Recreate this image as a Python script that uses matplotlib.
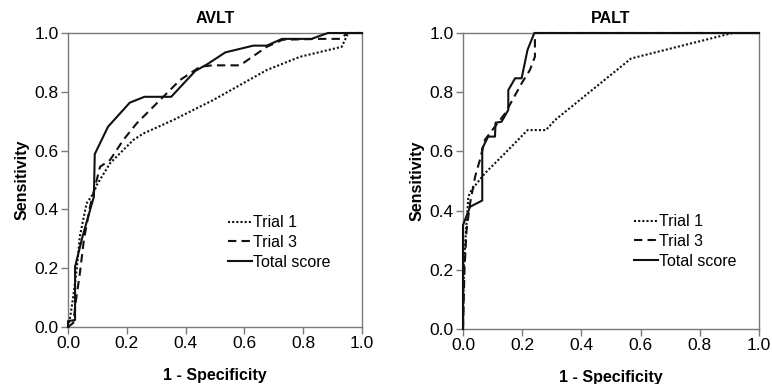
import matplotlib.pyplot as plt
import numpy as np

plt.rcParams['font.family'] = ['Liberation Sans', 'DejaVu Sans']

# AVLT curves (1 - specificity, sensitivity)
avlt_t1_x = [0, 0.005, 0.01, 0.02, 0.03, 0.04, 0.063, 0.086, 0.098, 0.143, 0.222, 0.256, 0.358, 0.494, 0.676, 0.789, 0.931, 0.953, 1.0]
avlt_t1_y = [0, 0.02, 0.05, 0.12, 0.2, 0.307, 0.42, 0.454, 0.483, 0.557, 0.636, 0.658, 0.704, 0.772, 0.874, 0.919, 0.953, 1.0, 1.0]
avlt_t3_x = [0, 0.018, 0.027, 0.04, 0.054, 0.075, 0.109, 0.143, 0.188, 0.234, 0.302, 0.381, 0.449, 0.49, 0.585, 0.676, 0.73, 0.857, 0.93, 0.948, 1.0]
avlt_t3_y = [0, 0.014, 0.09, 0.18, 0.296, 0.41, 0.545, 0.568, 0.636, 0.693, 0.761, 0.84, 0.885, 0.89, 0.89, 0.953, 0.977, 0.98, 0.98, 1.0, 1.0]
avlt_tot_x = [0, 0, 0.024, 0.024, 0.05, 0.088, 0.091, 0.136, 0.21, 0.26, 0.351, 0.433, 0.474, 0.535, 0.63, 0.676, 0.728, 0.828, 0.884, 1.0]
avlt_tot_y = [0, 0.02, 0.024, 0.205, 0.31, 0.443, 0.588, 0.681, 0.763, 0.783, 0.783, 0.871, 0.894, 0.934, 0.957, 0.957, 0.98, 0.98, 1.0, 1.0]

# PALT curves
palt_t1_x = [0, 0.003, 0.008, 0.015, 0.018, 0.029, 0.074, 0.142, 0.218, 0.28, 0.311, 0.568, 0.911, 1.0]
palt_t1_y = [0, 0.2, 0.3, 0.4, 0.447, 0.47, 0.526, 0.594, 0.672, 0.672, 0.706, 0.914, 1.0, 1.0]
palt_t3_x = [0, 0.005, 0.012, 0.024, 0.041, 0.057, 0.074, 0.108, 0.142, 0.17, 0.198, 0.226, 0.243, 0.243, 1.0]
palt_t3_y = [0, 0.2, 0.334, 0.425, 0.515, 0.571, 0.639, 0.684, 0.728, 0.779, 0.83, 0.875, 0.92, 1.0, 1.0]
palt_tot_x = [0, 0, 0.024, 0.065, 0.065, 0.085, 0.108, 0.11, 0.13, 0.153, 0.153, 0.176, 0.198, 0.218, 0.241, 1.0]
palt_tot_y = [0, 0.351, 0.413, 0.434, 0.61, 0.65, 0.65, 0.697, 0.7, 0.74, 0.807, 0.847, 0.847, 0.943, 1.0, 1.0]

ticks = [0.0, 0.2, 0.4, 0.6, 0.8, 1.0]
labels = ['Trial 1', 'Trial 3', 'Total score']

fig = plt.figure(figsize=(7.72, 3.84), dpi=100)
ax1 = fig.add_axes([68/772, 1-327/384, 294/772, 294/384])
ax2 = fig.add_axes([463/772, 1-329/384, 296/772, 296/384])

panels = [
    (ax1, 'AVLT', [(avlt_t1_x, avlt_t1_y), (avlt_t3_x, avlt_t3_y), (avlt_tot_x, avlt_tot_y)], (0.545, 0.38)),
    (ax2, 'PALT', [(palt_t1_x, palt_t1_y), (palt_t3_x, palt_t3_y), (palt_tot_x, palt_tot_y)], (0.578, 0.388)),
]
styles = [(0, (1, 1)), (0, (4, 2.5)), '-']

for ax, title, curves, legpos in panels:
    for (x, y), ls, lab in zip(curves, styles, labels):
        ax.plot(x, y, color='#111111', lw=1.5, linestyle=ls, label=lab, zorder=5, clip_on=False)
    ax.set_xlim(0, 1)
    ax.set_ylim(0, 1)
    ax.set_xticks(ticks)
    ax.set_yticks(ticks)
    ax.set_xticklabels([f'{t:.1f}' for t in ticks])
    ax.set_yticklabels([f'{t:.1f}' for t in ticks])
    for s in ax.spines.values():
        s.set_color('#7a7a7a')
        s.set_linewidth(1.0)
    ax.tick_params(direction='out', length=5, width=1, color='#7a7a7a', labelsize=12.5, pad=1.5)
    ax.set_title(title, fontsize=11.5, fontweight='bold', pad=7)
    ax.set_xlabel('1 - Specificity', fontsize=11.5, fontweight='bold', labelpad=12)
    ax.set_ylabel('Sensitivity', fontsize=11.5, fontweight='bold', labelpad=4)
    ax.legend(loc='upper left', bbox_to_anchor=legpos, frameon=False, fontsize=11.5,
              handlelength=1.5, handletextpad=0.05, labelspacing=0.3, borderpad=0, borderaxespad=0)

fig.savefig('out.png', dpi=100)
